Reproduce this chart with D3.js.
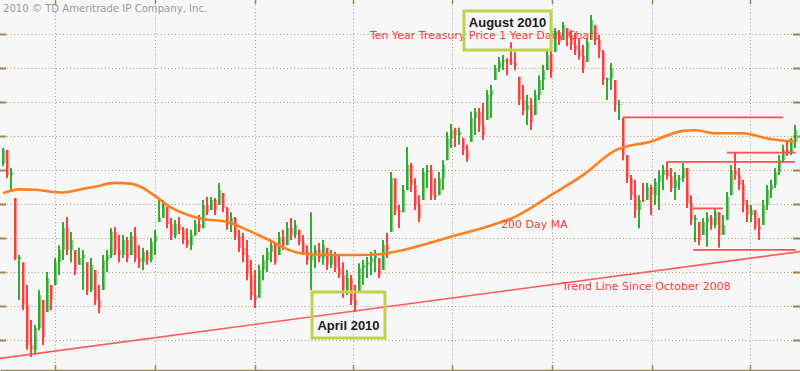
<!DOCTYPE html>
<html>
<head>
<meta charset="utf-8">
<script src="https://cdn.jsdelivr.net/npm/d3@7"></script>
<style>
html, body { margin: 0; padding: 0; background: #f7f7f7; }
svg { display: block; }
</style>
</head>
<body>
<svg id="chart"></svg>
<script>
// daily bars (price, points)
var highs = [
  120.65,120.59,120.06,119.18,117.50,117.29,116.62,115.59,115.44,116.47,
  116.18,117.00,116.62,117.41,117.79,118.47,118.62,118.18,117.65,117.71,
  117.65,117.29,117.41,117.06,116.62,117.50,117.65,118.29,118.32,118.09,
  118.09,118.03,118.18,118.32,117.79,117.71,117.65,118.00,118.24,119.12,
  119.12,118.91,118.59,118.53,118.62,118.32,118.29,118.24,118.53,118.68,
  119.12,119.21,119.21,119.18,119.62,119.32,118.91,118.76,118.62,118.24,
  118.15,117.94,117.35,117.06,117.21,117.50,117.71,117.94,117.85,118.18,
  118.24,118.47,118.59,118.53,118.24,118.09,117.79,118.76,117.79,117.85,
  117.94,117.71,117.65,117.59,117.50,117.29,117.06,116.91,116.62,117.26,
  117.35,117.44,117.59,117.65,117.41,117.94,118.15,119.94,119.76,118.97,
  119.56,120.68,120.21,119.76,119.26,120.06,120.15,120.15,119.76,119.94,
  120.29,121.12,121.35,121.24,121.24,120.94,120.74,121.71,121.82,121.82,
  121.97,122.35,122.50,123.09,123.32,123.38,123.29,123.76,123.47,122.74,
  122.50,122.21,122.12,122.35,122.79,123.09,123.53,123.68,124.18,124.12,
  124.35,124.18,124.12,124.03,123.88,123.68,123.88,124.56,124.26,123.97,
  123.53,122.71,123.15,122.65,122.06,121.53,120.44,119.85,119.71,119.26,
  119.62,119.62,119.56,119.76,120.00,120.15,120.24,120.06,119.94,119.85,
  120.21,120.06,119.26,118.68,118.47,118.59,118.76,118.68,118.88,118.76,
  118.68,119.35,120.15,120.53,120.06,119.71,119.12,118.97,118.82,118.59,
  119.12,119.56,119.71,120.06,120.44,120.74,120.88,120.94,121.32
];
var lows = [
  120.12,119.76,119.41,117.35,116.18,115.88,114.71,114.50,114.56,115.29,
  114.85,115.82,115.88,116.62,116.91,117.35,117.50,117.29,116.91,117.21,
  116.47,116.32,116.41,116.03,115.79,116.47,117.00,117.41,117.50,117.29,
  117.41,117.29,117.50,117.29,117.12,117.06,117.21,117.29,117.50,118.47,
  118.59,118.29,117.94,118.00,118.12,117.82,117.71,117.65,118.06,118.18,
  118.29,118.68,118.82,118.68,118.97,118.76,118.24,118.18,117.94,117.59,
  117.29,116.76,116.18,115.94,116.24,116.76,117.00,117.29,117.21,117.50,
  117.65,117.79,117.94,118.00,117.79,117.50,117.21,116.47,117.12,117.29,
  117.21,117.06,117.12,117.00,116.82,116.24,116.32,116.03,115.82,116.41,
  116.62,116.82,116.91,117.00,116.82,117.06,117.41,118.18,118.68,118.29,
  118.76,119.41,119.35,118.82,118.47,119.12,119.47,119.12,119.12,119.26,
  119.41,120.29,120.65,120.68,120.74,120.44,120.24,120.82,121.03,121.12,
  120.88,121.47,121.53,122.65,122.88,122.94,122.79,123.09,122.94,121.91,
  121.62,121.32,121.18,121.62,122.06,122.35,122.94,122.71,123.47,123.68,
  123.82,123.65,123.53,123.38,123.24,122.85,123.18,123.82,123.68,123.29,
  122.50,122.06,122.35,121.71,121.47,120.29,119.62,119.12,118.59,118.29,
  119.06,119.12,118.68,118.97,118.82,119.41,119.71,119.35,119.12,119.41,
  119.65,118.88,118.38,117.88,117.79,118.09,117.74,118.24,118.29,117.71,
  118.09,118.53,119.26,119.71,119.41,118.76,118.47,118.47,118.24,117.94,
  118.38,118.82,119.18,119.47,119.85,120.21,120.41,120.44,120.65
];
var closes = [
  120.59,119.85,119.94,117.38,117.44,116.03,114.85,114.71,115.35,116.32,
  115.06,116.82,116.18,117.29,117.65,118.29,117.65,117.94,117.06,117.41,
  117.50,116.47,117.21,116.18,115.94,117.35,117.50,118.18,117.65,117.50,
  117.94,117.41,118.06,117.41,117.29,117.59,117.35,117.88,118.09,118.59,
  118.97,118.41,118.06,118.41,118.24,117.94,117.79,118.09,118.41,118.29,
  118.97,118.76,119.12,118.82,119.41,118.88,118.38,118.59,118.06,117.71,
  117.50,116.91,116.32,116.18,117.06,117.35,117.59,117.79,117.29,118.03,
  117.79,118.29,118.09,118.38,117.88,117.59,117.35,117.50,117.65,117.41,
  117.79,117.21,117.50,117.12,116.91,116.47,116.82,116.18,116.03,117.12,
  117.21,117.29,117.41,117.50,116.91,117.79,117.65,119.76,118.82,118.76,
  119.41,120.15,119.56,118.97,118.59,119.94,120.00,119.26,119.21,119.76,
  120.15,120.94,121.18,121.03,121.12,120.59,120.35,121.53,121.71,121.32,
  121.03,122.21,122.35,123.00,123.18,123.24,123.18,123.15,123.06,122.06,
  121.76,121.91,121.41,122.21,122.65,122.94,123.38,122.88,124.06,123.82,
  124.26,123.97,123.68,123.53,123.35,123.00,123.76,124.41,123.82,123.47,
  122.65,122.70,123.00,121.91,121.94,120.44,119.76,119.26,118.82,119.12,
  119.09,119.50,119.26,119.65,119.85,120.00,119.82,119.47,119.71,119.76,
  120.06,119.03,118.53,118.59,117.94,118.47,118.59,118.38,118.76,118.09,
  118.38,119.21,120.00,119.85,119.56,118.97,118.68,118.82,118.35,118.24,
  118.97,119.41,119.56,119.94,120.29,120.59,120.50,120.82,121.18
];

// 200 day moving average, read at some bar indexes
var maIndex  = [0, 4, 8, 12, 15, 19, 23, 28, 32, 35, 38, 42, 47, 50, 56, 61, 66, 74, 82, 89,
                95, 99, 112, 122, 128, 137, 145, 153, 162, 170, 173, 178, 185, 191, 197, 198];
var maValues = [119.32, 119.43, 119.42, 119.36, 119.34, 119.42, 119.51, 119.62, 119.60, 119.47,
                119.24, 118.90, 118.65, 118.56, 118.47, 118.24, 117.97, 117.56, 117.50, 117.50,
                117.53, 117.62, 118.04, 118.37, 118.62, 119.26, 119.85, 120.57, 120.84, 121.15,
                121.17, 121.08, 121.08, 120.93, 120.85, 120.87];

// trend line since October 2008, value at the left and right edge
var trendEnds = [114.46, 117.60];

// horizontal support / resistance lines
var levelPrices = [121.55, 120.24, 120.51, 118.87, 117.65];
var levelStart  = [155, 166, 181, 172.5, 172.5];
var levelEnd    = [195, 198, 198.2, 180, 198.2];

var priceTicks = [115, 116, 117, 118, 119, 120, 121, 122, 123, 124];
var monthTicks = [13, 38, 63, 87.5, 112.25, 137.25, 162.25, 186.75];

var W = 800, H = 371, plotH = 370;
var gridColor = "#b49c70", axisColor = "#a5834a";
var plainFont = "'DejaVu Sans', Verdana, sans-serif";

var svg = d3.select("#chart").attr("width", W).attr("height", H);

var x = d3.scaleLinear().domain([-0.75, 199.25]).range([0, W]);
var y = d3.scaleLinear().domain([125 - plotH / 34, 125]).range([plotH, 0]);

svg.append("rect").attr("width", W).attr("height", H).attr("fill", "#f7f7f7");

// dotted grid
var gridH = svg.append("g")
  .call(d3.axisLeft(y).tickValues(priceTicks).tickSize(-W).tickFormat(""));
gridH.select(".domain").remove();
gridH.selectAll("line").attr("stroke", gridColor).attr("stroke-dasharray", "1,2.5");

var gridV = svg.append("g")
  .attr("transform", "translate(0," + plotH + ")")
  .call(d3.axisBottom(x).tickValues(monthTicks).tickSize(-plotH).tickFormat(""));
gridV.select(".domain").remove();
gridV.selectAll("line").attr("stroke", gridColor).attr("stroke-dasharray", "1,2.5");

// short edge ticks
var leftTicks = svg.append("g")
  .call(d3.axisLeft(y).tickValues(priceTicks).tickSize(-6).tickFormat(""));
leftTicks.select(".domain").remove();
leftTicks.selectAll("line").attr("stroke", axisColor).attr("stroke-width", 2);

var rightTicks = svg.append("g")
  .attr("transform", "translate(" + W + ",0)")
  .call(d3.axisRight(y).tickValues(priceTicks).tickSize(-7).tickFormat(""));
rightTicks.select(".domain").remove();
rightTicks.selectAll("line").attr("stroke", axisColor).attr("stroke-width", 2);

var bottomAxis = svg.append("g")
  .attr("transform", "translate(0," + plotH + ")")
  .call(d3.axisBottom(x).tickValues(monthTicks).tickSize(-5).tickSizeOuter(0).tickFormat(""));
bottomAxis.select(".domain").attr("stroke", axisColor).attr("stroke-width", 1.5);
bottomAxis.selectAll("line").attr("stroke", axisColor).attr("stroke-width", 1.5);

var topAxis = svg.append("g")
  .call(d3.axisTop(x).tickValues(monthTicks).tickSize(-4).tickFormat(""));
topAxis.select(".domain").remove();
topAxis.selectAll("line").attr("stroke", axisColor).attr("stroke-width", 1.5);

// bars
var bars = highs.map(function(h, i) {
  var open = i === 0 ? 120.2 : closes[i - 1];
  open = Math.max(lows[i], Math.min(h, open));
  return { i: i, high: h, low: lows[i], close: closes[i], open: open, up: closes[i] > open };
});

var barLayer = svg.append("g");
barLayer.selectAll(".body")
  .data(bars)
  .join("line")
    .attr("class", "body")
    .attr("x1", function(d) { return x(d.i) + 1.5; })
    .attr("x2", function(d) { return x(d.i) + 1.5; })
    .attr("y1", function(d) { return y(d.open); })
    .attr("y2", function(d) { return y(d.close); })
    .attr("stroke", function(d) { return d.up ? "#7fcf7f" : "#ff9a9a"; })
    .attr("stroke-width", 1.9);

barLayer.selectAll(".hl")
  .data(bars)
  .join("line")
    .attr("class", "hl")
    .attr("x1", function(d) { return x(d.i); })
    .attr("x2", function(d) { return x(d.i); })
    .attr("y1", function(d) { return y(d.high); })
    .attr("y2", function(d) { return y(d.low); })
    .attr("stroke", function(d) { return d.up ? "#10a010" : "#ff2020"; })
    .attr("stroke-width", 1.7);

// moving average
var maLine = d3.line()
  .x(function(d, i) { return x(maIndex[i]); })
  .y(function(d) { return y(d); })
  .curve(d3.curveMonotoneX);

svg.append("path")
  .attr("d", maLine(maValues))
  .attr("fill", "none")
  .attr("stroke", "#ff8020")
  .attr("stroke-width", 2.6);

// trend line
svg.append("line")
  .attr("x1", x(x.domain()[0]))
  .attr("x2", x(x.domain()[1]))
  .attr("y1", y(trendEnds[0]))
  .attr("y2", y(trendEnds[1]))
  .attr("stroke", "#ff5a5a")
  .attr("stroke-width", 1.6);

svg.append("g").selectAll("line")
  .data(levelPrices)
  .join("line")
    .attr("x1", function(d, i) { return x(levelStart[i]); })
    .attr("x2", function(d, i) { return x(levelEnd[i]); })
    .attr("y1", function(d) { return y(d); })
    .attr("y2", function(d) { return y(d); })
    .attr("stroke", "#ff5050")
    .attr("stroke-width", 1.8);

// labels
svg.append("text")
  .attr("x", 3).attr("y", 12)
  .attr("font-family", plainFont)
  .attr("font-size", 10.1)
  .attr("fill", "#9a9a9a")
  .text("2010 \u00a9 TD Ameritrade IP Company, Inc.");

var redText = [
  { t: "Ten Year Treasury Price 1 Year Daily Chart", x: 370, y: 39 },
  { t: "200 Day MA", x: 501, y: 228 },
  { t: "Trend Line Since October 2008", x: 562, y: 290 }
];
svg.append("g").selectAll("text")
  .data(redText)
  .join("text")
    .attr("x", function(d) { return d.x; })
    .attr("y", function(d) { return d.y; })
    .attr("font-family", plainFont)
    .attr("font-size", 11)
    .attr("fill", "#ff3a3a")
    .text(function(d) { return d.t; });

var boxes = [
  { t: "August 2010", x0: 464, y0: 11, x1: 551, y1: 50, ty: 27 },
  { t: "April 2010", x0: 312, y0: 292, x1: 385, y1: 338, ty: 330 }
];
var box = svg.append("g").selectAll("g")
  .data(boxes)
  .join("g");
box.append("rect")
  .attr("x", function(d) { return d.x0; })
  .attr("y", function(d) { return d.y0; })
  .attr("width", function(d) { return d.x1 - d.x0; })
  .attr("height", function(d) { return d.y1 - d.y0; })
  .attr("fill", "none")
  .attr("stroke", "#bcd44a")
  .attr("stroke-width", 3);
box.append("text")
  .attr("x", function(d) { return (d.x0 + d.x1) / 2; })
  .attr("y", function(d) { return d.ty; })
  .attr("text-anchor", "middle")
  .attr("font-family", "'Liberation Sans', Arial, sans-serif")
  .attr("font-weight", "bold")
  .attr("font-size", 13)
  .attr("fill", "#1a1a1a")
  .text(function(d) { return d.t; });
</script>
</body>
</html>
